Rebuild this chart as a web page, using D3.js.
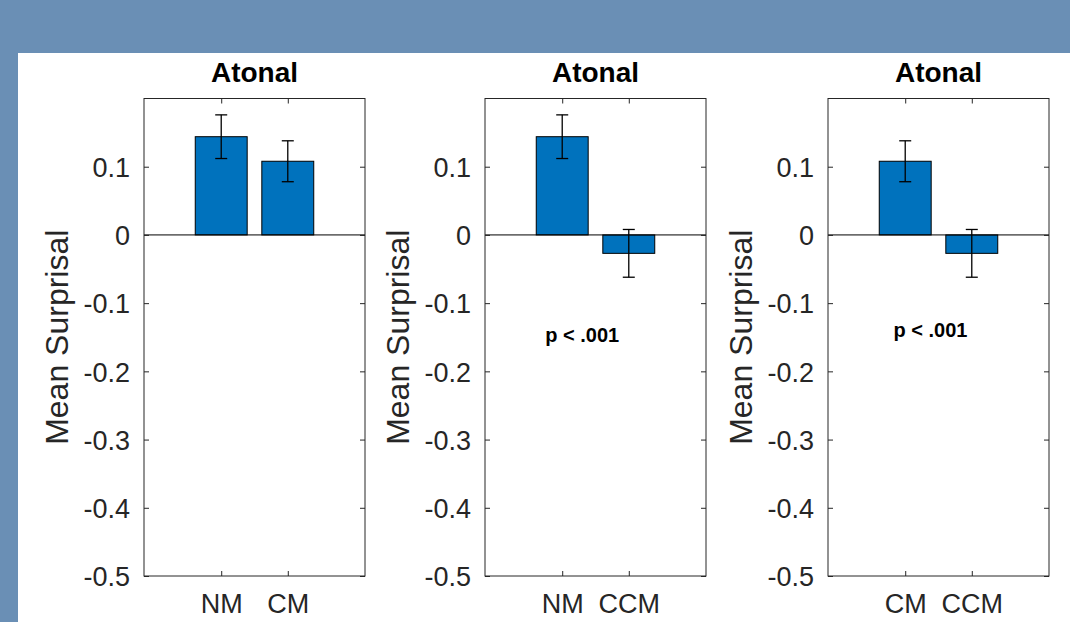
<!DOCTYPE html>
<html>
<head>
<meta charset="utf-8">
<script src="https://cdn.jsdelivr.net/npm/d3@7/dist/d3.min.js"></script>
<style>
  body { margin: 0; background: #6a8fb5; }
  svg { display: block; }
  text { font-family: "Liberation Sans", Arial, Helvetica, sans-serif; }
</style>
</head>
<body>
<svg id="chart" width="1070" height="622"></svg>
<script>
// one entry per panel
var titles     = ["Atonal", "Atonal", "Atonal"],
    categories = [["NM", "CM"], ["NM", "CCM"], ["CM", "CCM"]],
    means      = [[0.144, 0.108], [0.144, -0.027], [0.108, -0.027]],
    errors     = [[0.032, 0.030], [0.032, 0.035], [0.030, 0.035]],
    pLabels    = ["", "p < .001", "p < .001"],
    pPosX      = [0, 0.30, 0.38],      // fraction of the way from bar 1 to bar 2
    pPosY      = [0, -0.157, -0.150],
    yTicks     = [0.1, 0, -0.1, -0.2, -0.3, -0.4, -0.5],
    yLabel     = "Mean Surprisal"

var svg = d3.select("#chart")

// white page area
svg.append("rect")
  .attr("x", 18).attr("y", 53)
  .attr("width", 1070 - 18).attr("height", 622 - 53)
  .attr("fill", "#ffffff")

var axW = 221, axTop = 98.5, axBot = 576,
    axLeft = [144, 485, 828],
    ink = "#262626"

var y = d3.scaleLinear()
  .domain([-0.5, 0.2])
  .range([axBot, axTop])

titles.forEach((t, i) => drawPanel(i))

function drawPanel(i) { //{{{
  var g = svg.append("g")
    .attr("transform", "translate(" + axLeft[i] + ",0)")

  var x = d3.scalePoint()
    .domain(categories[i])
    .range([0, axW])
    .padding(1.16)

  var bw = x.step() * 0.78

  var data = categories[i].map((c, j) => ({ cat: c, m: means[i][j], e: errors[i][j] }))

  // bars
  g.selectAll("rect.bar")
    .data(data)
    .enter().append("rect")
    .classed("bar", true)
    .attr("x", d => x(d.cat) - bw / 2)
    .attr("width", bw)
    .attr("y", d => y(Math.max(0, d.m)))
    .attr("height", d => Math.abs(y(d.m) - y(0)))
    .attr("fill", "#0072bd")
    .attr("stroke", "#000")
    .attr("stroke-width", 1)

  // baseline
  g.append("line")
    .attr("x1", 0).attr("x2", axW)
    .attr("y1", y(0)).attr("y2", y(0))
    .attr("stroke", "#000")
    .attr("stroke-width", 1)

  // error bars
  var eb = g.selectAll("g.err")
    .data(data)
    .enter().append("g")
    .classed("err", true)
    .attr("stroke", "#000")
    .attr("stroke-width", 1.3)

  eb.append("line")
    .attr("x1", d => x(d.cat)).attr("x2", d => x(d.cat))
    .attr("y1", d => y(d.m + d.e)).attr("y2", d => y(d.m - d.e))
  eb.append("line")
    .attr("x1", d => x(d.cat) - 6).attr("x2", d => x(d.cat) + 6)
    .attr("y1", d => y(d.m + d.e)).attr("y2", d => y(d.m + d.e))
  eb.append("line")
    .attr("x1", d => x(d.cat) - 6).attr("x2", d => x(d.cat) + 6)
    .attr("y1", d => y(d.m - d.e)).attr("y2", d => y(d.m - d.e))

  // y axis, ticks inside
  var yAxis = g.append("g")
    .call(d3.axisLeft(y).tickValues(yTicks).tickSizeInner(-5).tickSizeOuter(0).tickPadding(14)
      .tickFormat(d => d === 0 ? "0" : d3.format(".1f")(d).replace("−", "-")))
  yAxis.select(".domain").remove()
  yAxis.selectAll("line").attr("stroke", ink)
  yAxis.selectAll("text")
    .attr("font-size", 27)
    .attr("fill", ink)
    .attr("dy", "0.36em")

  g.append("g")
    .attr("transform", "translate(" + axW + ",0)")
    .call(d3.axisRight(y).tickValues(yTicks).tickSizeInner(-5).tickSizeOuter(0).tickFormat(""))
    .call(a => a.select(".domain").remove())
    .selectAll("line").attr("stroke", ink)

  // x axis
  var xAxis = g.append("g")
    .attr("transform", "translate(0," + axBot + ")")
    .call(d3.axisBottom(x).tickSizeInner(-5).tickSizeOuter(0).tickPadding(14))
  xAxis.select(".domain").remove()
  xAxis.selectAll("line").attr("stroke", ink)
  xAxis.selectAll("text")
    .attr("font-size", 27)
    .attr("fill", ink)
    .attr("dy", "0.86em")

  g.append("g")
    .attr("transform", "translate(0," + axTop + ")")
    .call(d3.axisTop(x).tickSizeInner(-5).tickSizeOuter(0).tickFormat(""))
    .call(a => a.select(".domain").remove())
    .selectAll("line").attr("stroke", ink)

  // box
  g.append("rect")
    .attr("x", 0).attr("y", axTop)
    .attr("width", axW).attr("height", axBot - axTop)
    .attr("fill", "none")
    .attr("stroke", ink)
    .attr("stroke-width", 1)

  // title
  g.append("text")
    .attr("x", axW / 2).attr("y", 82)
    .attr("text-anchor", "middle")
    .attr("font-size", 28)
    .attr("font-weight", "bold")
    .attr("fill", "#000")
    .text(titles[i])

  // y label
  g.append("text")
    .attr("transform", "translate(-76," + ((axTop + axBot) / 2) + ") rotate(-90)")
    .attr("text-anchor", "middle")
    .attr("font-size", 32)
    .attr("fill", ink)
    .text(yLabel)

  // significance note
  if (pLabels[i]) {
    var c0 = x(categories[i][0]), c1 = x(categories[i][1])
    g.append("text")
      .attr("x", c0 + (c1 - c0) * pPosX[i])
      .attr("y", y(pPosY[i]))
      .attr("text-anchor", "middle")
      .attr("font-size", 20)
      .attr("font-weight", "bold")
      .attr("fill", "#000")
      .text(pLabels[i])
  }
} //}}}
</script>
</body>
</html>
